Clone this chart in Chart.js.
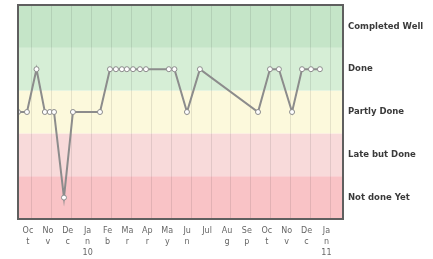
<!DOCTYPE html>
<html>
<head>
<meta charset="utf-8">
<script src="https://cdn.jsdelivr.net/npm/chart.js@4/dist/chart.umd.min.js"></script>
<style>
    body { margin: 0; background: #fff; }
    #wrap { width: 433px; height: 259px; }
</style>
</head>
<body>
<div id="wrap"><canvas id="statusChart" width="433" height="259"></canvas></div>
<script>
// month axis: 0 = Oct 09 ... 15 = Jan 11
const monthLabels = [['Oc','t'], ['No','v'], ['De','c'], ['Ja','n','10'], ['Fe','b'], ['Ma','r'], ['Ap','r'], ['Ma','y'],
    ['Ju','n'], ['Jul'], ['Au','g'], ['Se','p'], ['Oc','t'], ['No','v'], ['De','c'], ['Ja','n','11']];

// status levels, bottom to top
const statusLabels = ['Not done Yet', 'Late but Done', 'Partly Done', 'Done', 'Completed Well'];
const bandColors = ['#f9c3c6', '#f8dada', '#fcf9dc', '#d6eed6', '#c5e5c8'];

// report dates (in months from Oct 09) and status level
const reportTimes = [-0.70, -0.25, 0.23, 0.65, 0.90, 1.11, 1.61, 2.06, 3.42, 3.92, 4.22, 4.52, 4.77, 5.08,
    5.43, 5.73, 6.88, 7.16, 7.79, 8.44, 11.36, 11.96, 12.41, 13.07, 13.57, 14.02, 14.47];
const reportStatus = [2, 2, 3, 2, 2, 2, 0, 2, 2, 3, 3, 3, 3, 3, 3, 3, 3, 3, 2, 3, 2, 3, 3, 2, 3, 3, 3];

let points = [];
for (let i = 0; i < reportTimes.length; i++) {
    points.push({ x: reportTimes[i], y: reportStatus[i] });
}

/* colored status bands behind the grid */
const bandsPlugin = {
    id: 'bands',
    beforeDraw: function (chart) {
        const ctx = chart.ctx;
        const area = chart.chartArea;
        const y = chart.scales.y;
        ctx.save();
        for (let i = 0; i < bandColors.length; i++) {
            const top = y.getPixelForValue(i + 0.5);
            const bottom = y.getPixelForValue(i - 0.5);
            ctx.fillStyle = bandColors[i];
            ctx.fillRect(area.left, top, area.right - area.left, bottom - top);
        }
        ctx.restore();
    },
    afterDraw: function (chart) {
        const ctx = chart.ctx;
        const area = chart.chartArea;
        ctx.save();
        ctx.strokeStyle = '#5f5f5f';
        ctx.lineWidth = 2;
        ctx.strokeRect(area.left, area.top, area.right - area.left, area.bottom - area.top);
        ctx.restore();
    }
};

var ctx = document.getElementById('statusChart').getContext('2d');
var myChart = new Chart(ctx, {
    type: 'line',
    data: {
        datasets: [{
            label: 'Status',
            data: points,
            borderColor: '#8c8c8c',
            borderWidth: 2,
            pointRadius: 2.5,
            pointBorderWidth: 1,
            pointBackgroundColor: '#ffffff',
            pointBorderColor: '#8c8c8c',
            tension: 0
        }]
    },
    options: {
        responsive: false,
        animation: false,
        layout: { padding: { left: 18, top: 5, right: 0, bottom: 0 } },
        plugins: {
            legend: { display: false },
            tooltip: { enabled: false }
        },
        scales: {
            x: {
                type: 'linear',
                min: -0.7,
                max: 15.63,
                afterBuildTicks: function (scale) {
                    scale.ticks = monthLabels.map(function (l, i) { return { value: i }; });
                },
                afterFit: function (scale) {
                    scale.height = 40;
                    scale.paddingLeft = 0;
                    scale.paddingRight = 0;
                },
                grid: { color: 'rgba(0,0,0,0.09)', drawTicks: false },
                border: { display: false },
                ticks: {
                    autoSkip: false,
                    maxRotation: 0,
                    padding: 7,
                    labelOffset: -4,
                    color: '#666',
                    font: { family: 'DejaVu Sans', size: 8, lineHeight: 1.35 },
                    callback: function (value) { return monthLabels[value]; }
                }
            },
            y: {
                type: 'linear',
                position: 'right',
                min: -0.5,
                max: 4.5,
                afterBuildTicks: function (scale) {
                    scale.ticks = statusLabels.map(function (l, i) { return { value: i }; });
                },
                afterFit: function (scale) {
                    scale.width = 90;
                    scale.paddingTop = 0;
                    scale.paddingBottom = 0;
                },
                grid: { display: false, drawTicks: false },
                border: { display: false },
                ticks: {
                    padding: 5,
                    color: '#3a3a3a',
                    font: { family: 'DejaVu Sans', size: 8.5, weight: 'bold' },
                    callback: function (value) { return statusLabels[value]; }
                }
            }
        }
    },
    plugins: [bandsPlugin]
});
</script>
</body>
</html>
